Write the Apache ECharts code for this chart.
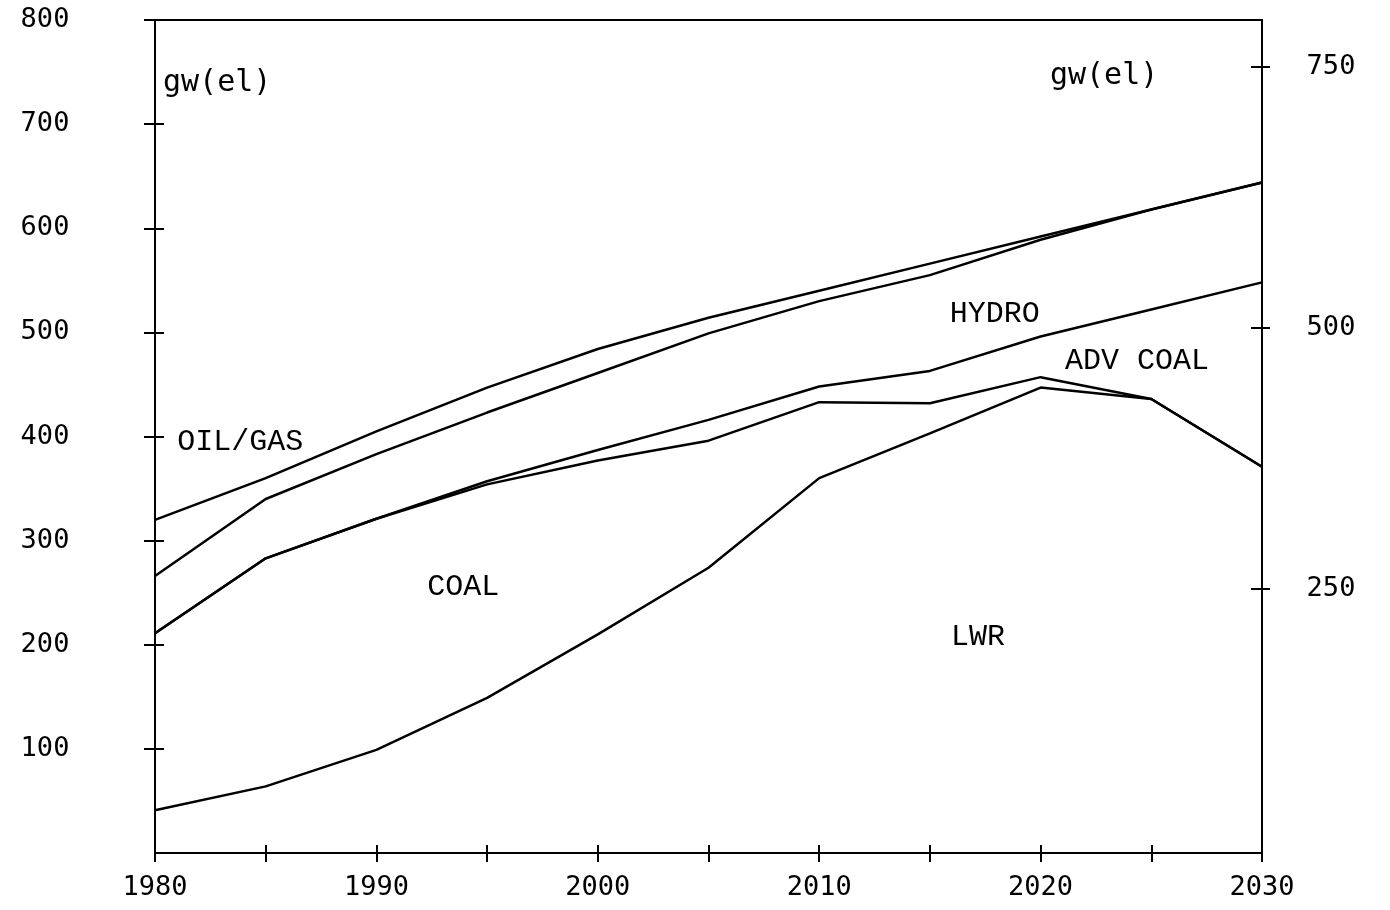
<!DOCTYPE html>
<html>
<head>
<meta charset="utf-8">
<script src="https://cdn.jsdelivr.net/npm/echarts@6/dist/echarts.min.js"></script>
<style>
html,body{margin:0;padding:0;background:#fff;}
#chart{width:1390px;height:910px;}
</style>
</head>
<body>
<div id="chart"></div>
<script>
// ---- data ----
const years = [1980, 1985, 1990, 1995, 2000, 2005, 2010, 2015, 2020, 2025, 2030];
const oilGasTop = [320, 360, 405, 447, 484, 514, 540, 566, 592, 618, 644];
const hydroTop = [266, 340, 383, 423, 461, 499, 530, 555, 589, 618, 644];
const advCoalTop = [211, 283, 321, 357, 387, 416, 448, 463, 496, 522, 548];
const coalTop = [211, 283, 321, 354, 377, 396, 433, 432, 457, 436, 371];
const lwrTop = [41, 64, 99, 149, 210, 274, 360, 403, 447, 436, 371];
const xLabelYears = [1980, 1990, 2000, 2010, 2020, 2030];
const rightTicks = [250, 500, 750];
// region labels: [year, value, text]
const regionLabels = [
  [1981.0, 395, 'OIL/GAS'],
  [1992.3, 255, 'COAL'],
  [2015.9, 518, 'HYDRO'],
  [2021.1, 472, 'ADV COAL'],
  [2015.95, 207, 'LWR']
];
const unitLabels = [
  [1980.36, 739, 'gw(el)'],
  [2020.42, 746, 'gw(el)']
];

const tickFont = 'DejaVu Sans Mono';
const labelFont = 'Liberation Mono';

function pairs(vals) { return years.map((y, i) => [y, vals[i]]); }
function lineSeries(name, vals) {
  return {
    name: name, type: 'line', data: pairs(vals), symbol: 'none',
    lineStyle: { color: '#000', width: 2.5 }, xAxisIndex: 0, yAxisIndex: 0,
    silent: true, z: 3
  };
}

const axisLine = { show: true, lineStyle: { color: '#000', width: 2 } };
const plain = v => String(v);

const option = {
  animation: false,
  backgroundColor: '#fff',
  grid: { left: 155, right: 128, top: 20, bottom: 57, show: true, borderColor: '#000', borderWidth: 2, backgroundColor: 'transparent' },
  xAxis: [
    { type: 'value', position: 'bottom', min: 1980, max: 2030, interval: 5,
      axisLine: axisLine,
      axisTick: { show: true, inside: false, length: 9, lineStyle: { color: '#000', width: 2 } },
      axisLabel: { customValues: xLabelYears, formatter: plain, fontFamily: tickFont, fontSize: 27, color: '#000', margin: 21 },
      splitLine: { show: false } },
    { type: 'value', position: 'bottom', min: 1980, max: 2030, interval: 5,
      axisLine: axisLine,
      axisTick: { show: true, inside: true, length: 8, lineStyle: { color: '#000', width: 2 } },
      axisLabel: { show: false }, splitLine: { show: false } }
  ],
  yAxis: [
    { type: 'value', position: 'left', min: 0, max: 800, interval: 100,
      axisLine: axisLine,
      axisTick: { show: true, inside: false, length: 11, lineStyle: { color: '#000', width: 2 } },
      axisLabel: { showMinLabel: false, formatter: plain, fontFamily: tickFont, fontSize: 27, color: '#000', align: 'center', margin: 110 },
      splitLine: { show: false } },
    { type: 'value', position: 'left', min: 0, max: 800, interval: 100,
      axisLine: axisLine,
      axisTick: { show: true, inside: true, length: 9, lineStyle: { color: '#000', width: 2 } },
      axisLabel: { show: false }, splitLine: { show: false } },
    { type: 'value', position: 'right', min: -3, max: 795,
      axisLine: axisLine,
      axisTick: { show: true, inside: false, length: 8, customValues: rightTicks, lineStyle: { color: '#000', width: 2 } },
      axisLabel: { customValues: rightTicks, formatter: plain, fontFamily: tickFont, fontSize: 27, color: '#000', align: 'center', margin: 69 },
      splitLine: { show: false } },
    { type: 'value', position: 'right', min: -3, max: 795,
      axisLine: axisLine,
      axisTick: { show: true, inside: true, length: 11, customValues: rightTicks, lineStyle: { color: '#000', width: 2 } },
      axisLabel: { show: false }, splitLine: { show: false } }
  ],
  series: [
    lineSeries('OIL/GAS', oilGasTop),
    lineSeries('HYDRO', hydroTop),
    lineSeries('ADV COAL', advCoalTop),
    lineSeries('COAL', coalTop),
    lineSeries('LWR', lwrTop),
    { type: 'scatter', symbolSize: 0, silent: true, xAxisIndex: 0, yAxisIndex: 0,
      itemStyle: { opacity: 1 },
      data: regionLabels.map(d => ({ value: [d[0], d[1]], name: d[2] })),
      label: { show: true, position: 'right', distance: 0, formatter: p => p.name, opacity: 1,
        fontFamily: labelFont, fontSize: 30, color: '#000', align: 'left', verticalAlign: 'middle' } },
    { type: 'scatter', symbolSize: 0, silent: true, xAxisIndex: 0, yAxisIndex: 0,
      itemStyle: { opacity: 1 },
      data: unitLabels.map(d => ({ value: [d[0], d[1]], name: d[2] })),
      label: { show: true, position: 'right', distance: 0, formatter: p => p.name, opacity: 1,
        fontFamily: tickFont, fontSize: 30, color: '#000', align: 'left', verticalAlign: 'middle' } }
  ]
};

const chart = echarts.init(document.getElementById('chart'), null, { renderer: 'canvas' });
chart.setOption(option);
</script>
</body>
</html>
